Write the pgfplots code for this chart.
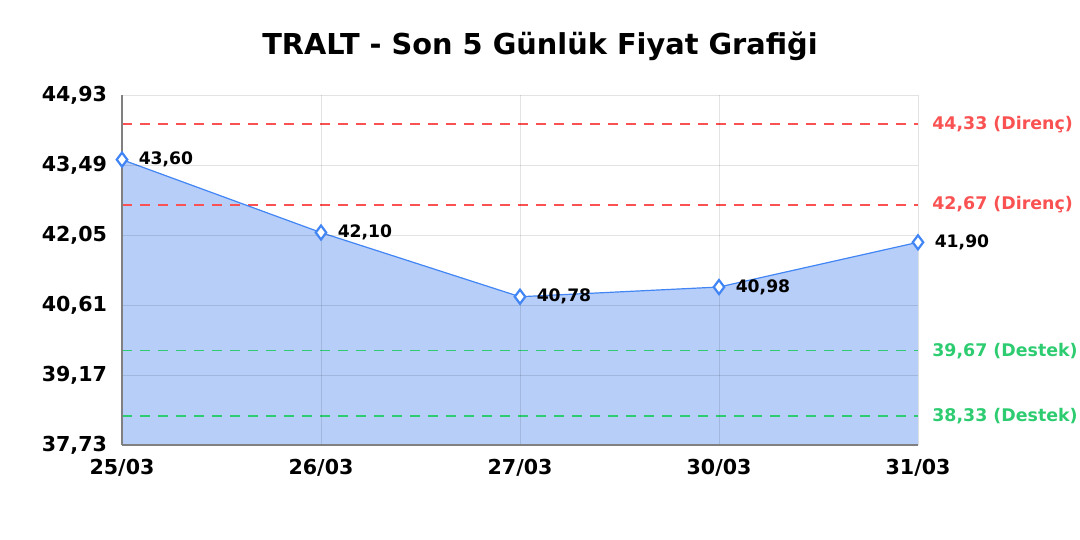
\documentclass[border=0pt]{standalone}
\usepackage{fontspec}
\setmainfont{DejaVu Sans}
\usepackage{pgfplots}
\pgfplotsset{compat=1.18}

\definecolor{lineblue}{RGB}{66,133,244}
\definecolor{fillblue}{RGB}{183,206,248}
\definecolor{resred}{RGB}{250,82,82}
\definecolor{supgreen}{RGB}{46,204,113}

\begin{document}
\begin{tikzpicture}
\begin{axis}[
    scale only axis,
    width=398pt, height=175pt,
    xmin=0, xmax=4,
    ymin=37.73, ymax=44.93,
    xtick={0,1,2,3,4},
    xticklabels={25/03,26/03,27/03,30/03,31/03},
    ytick={37.73,39.17,40.61,42.05,43.49,44.93},
    /pgf/number format/.cd, use comma, fixed, fixed zerofill, precision=2,
      assume math mode=true,
    /pgfplots/.cd,
    ticklabel style={font=\bfseries\fontsize{10.3}{12}\selectfont},
    yticklabel style={xshift=-4pt},
    xticklabel style={yshift=-3.5pt},
    grid=major,
    major grid style={black, opacity=0.11, line width=0.5pt},
    axis on top,
    axis x line*=bottom, axis y line*=left,
    axis line style={gray, line width=0.7pt},
    tick style={draw=none},
    clip=false,
    title={\bfseries TRALT - Son 5 Günlük Fiyat Grafiği},
    title style={font=\fontsize{14.4}{17}\selectfont, yshift=7.5pt, xshift=10pt},
]
\coordinate (O) at (rel axis cs:0,0);
\addplot[fill=fillblue, draw=none] coordinates {(0,43.60) (1,42.10) (2,40.78) (3,40.98) (4,41.90)} \closedcycle;

\addplot[resred, line width=0.7pt, dash pattern=on 5pt off 4pt] coordinates {(0,44.33) (4,44.33)}
  node[pos=1, anchor=west, xshift=3.5pt, font=\bfseries\fontsize{8.7}{10}\selectfont] {44,33 (Direnç)};
\addplot[resred, line width=0.7pt, dash pattern=on 5pt off 4pt] coordinates {(0,42.67) (4,42.67)}
  node[pos=1, anchor=west, xshift=3.5pt, font=\bfseries\fontsize{8.7}{10}\selectfont] {42,67 (Direnç)};
\addplot[supgreen, line width=0.7pt, dash pattern=on 5pt off 4pt] coordinates {(0,39.67) (4,39.67)}
  node[pos=1, anchor=west, xshift=3.5pt, font=\bfseries\fontsize{8.7}{10}\selectfont] {39,67 (Destek)};
\addplot[supgreen, line width=0.7pt, dash pattern=on 5pt off 4pt] coordinates {(0,38.33) (4,38.33)}
  node[pos=1, anchor=west, xshift=3.5pt, font=\bfseries\fontsize{8.7}{10}\selectfont] {38,33 (Destek)};

\addplot[lineblue, line width=0.6pt, mark=diamond*, mark size=3.5pt,
  mark options={fill=white, draw=lineblue, line width=1.1pt},
  point meta=explicit symbolic,
  nodes near coords,
  every node near coord/.style={anchor=west, xshift=4.5pt, text=black,
    font=\bfseries\fontsize{8.6}{10}\selectfont}]
  coordinates {(0,43.60) [43,60] (1,42.10) [42,10] (2,40.78) [40,78] (3,40.98) [40,98] (4,41.90) [41,90]};
\end{axis}
\pgfresetboundingbox
\path[use as bounding box] (O) ++(-61pt,-47.5pt) rectangle ++(540pt,270pt);
\end{tikzpicture}
\end{document}
